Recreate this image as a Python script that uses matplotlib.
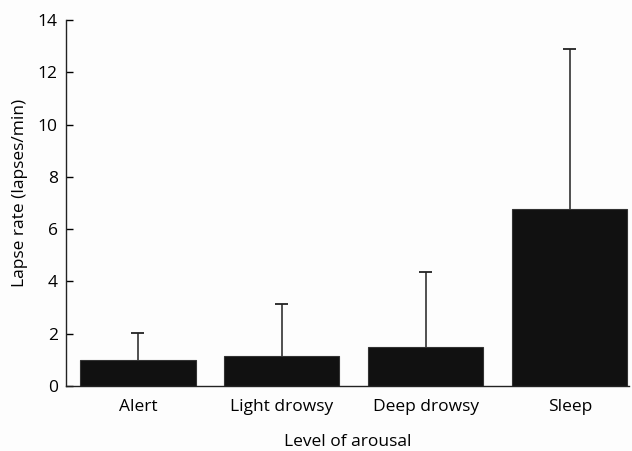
import numpy as np
import matplotlib.pyplot as plt

plt.rcParams['font.family'] = ['Open Sans', 'DejaVu Sans']

# mean lapse rate per arousal level, with upper SD
levels = ['Alert', 'Light drowsy', 'Deep drowsy', 'Sleep']
lapse_rate = [1.0, 1.15, 1.5, 6.77]
lapse_sd = [1.03, 1.99, 2.86, 6.13]

fig = plt.figure(figsize=(6.32, 4.51), dpi=100, facecolor='#fdfdfd')
ax = fig.add_axes([0.1044, 0.144, 0.8906, 0.8117])
ax.set_facecolor('#fdfdfd')

x = np.arange(len(levels))
rate = np.array(lapse_rate)
upper = rate + np.array(lapse_sd)

ax.bar(x, rate, width=0.8, color='#111111', edgecolor='#333333',
       linewidth=0.8, zorder=2)
# one-sided error bars: stem from bar top, cap at the end
ax.vlines(x, rate, upper, color='#333333', linewidth=1.2, zorder=1)
ax.hlines(upper, x - 0.045, x + 0.045, color='#222222', linewidth=1.3, zorder=1)

ax.set_xlim(-0.5, 3.41)
ax.set_ylim(0, 14)
ax.set_yticks(range(0, 15, 2))
ax.set_xticks(x)
ax.set_xticklabels(levels)
ax.tick_params(axis='y', direction='in', length=5, width=1, labelsize=12.5, pad=6)
ax.tick_params(axis='x', length=0, labelsize=12.5, pad=9)
for side in ['top', 'right']:
    ax.spines[side].set_visible(False)
for side in ['left', 'bottom']:
    ax.spines[side].set_linewidth(1)
    ax.spines[side].set_color('#222222')

ax.set_ylabel('Lapse rate (lapses/min)', fontsize=12.5)
ax.yaxis.set_label_coords(-0.068, 0.527)
ax.set_xlabel('Level of arousal', fontsize=12.5, labelpad=14)

fig.savefig('out.png', dpi=100, facecolor=fig.get_facecolor())
